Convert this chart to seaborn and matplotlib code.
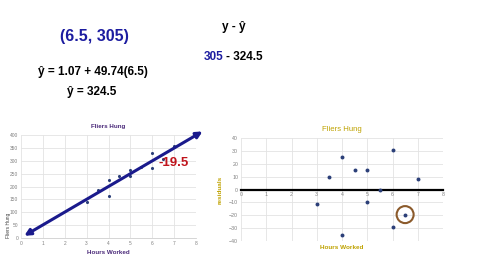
import matplotlib
matplotlib.use("Agg")
import matplotlib.pyplot as plt
import seaborn as sns
import pandas as pd
import numpy as np

# ---- data ----
hours = [3, 3.5, 4, 4, 4.5, 5, 5, 5.5, 6, 6, 6.5, 7]
fliers = [139, 185, 225, 165, 240, 265, 240, 275, 330, 270, 305, 358]
residuals = [-11, 10, 25, -35, 15, 15, -10, 0, 30.5, -29.5, -19.5, 8.5]
intercept = 1.07
slope = 49.74
line_x = [0.15, 8.3]
highlight_x = [6.5]
highlight_res = [-19.5]
x_ticks = list(range(0, 9))
left_y_ticks = list(range(0, 401, 50))
right_y_ticks = list(range(-40, 41, 10))

df = pd.DataFrame({"hours": hours, "fliers": fliers, "res": residuals})
hl = pd.DataFrame({"hours": highlight_x, "res": highlight_res})

sns.set_theme(style="white")
plt.rcParams['font.family'] = ['Liberation Sans', 'DejaVu Sans']

navy = "#1a1a8c"
pt_col = "#2b3f78"
purple = "#4b2a7a"
gold = "#bfa200"

fig = plt.figure(figsize=(4.8, 2.7), dpi=100)

# ---- top texts ----
fig.text(94/480, 1-36/270, "(6.5, 305)", ha="center", va="center",
         fontsize=11.5, fontweight="bold", color="#1c1ca0")
fig.text(93/480, 1-72/270, "ŷ = 1.07 + 49.74(6.5)", ha="center", va="center",
         fontsize=8.5, fontweight="bold", color="black")
fig.text(92/480, 1-92/270, "ŷ = 324.5", ha="center", va="center",
         fontsize=8.5, fontweight="bold", color="black")
fig.text(234/480, 1-27/270, "y - ŷ", ha="center", va="center",
         fontsize=8.5, fontweight="bold", color="black")
t305 = fig.text(204/480, 1-57/270, "305", ha="left", va="center",
                fontsize=8.5, fontweight="bold", color="#1c1ca0")
fig.canvas.draw()
bb = t305.get_window_extent()
fig.text(bb.x1 / fig.bbox.width + 2/480, 1-57/270, "- 324.5", ha="left", va="center",
         fontsize=8.5, fontweight="bold", color="black")

# ---- left chart ----
axL = fig.add_axes([21/480, 1-238/270, 175/480, 103/270])
sns.scatterplot(data=df, x="hours", y="fliers", ax=axL, s=5, color=pt_col,
                edgecolor=pt_col, linewidth=0, zorder=3)
ly = [intercept + slope * v for v in line_x]
axL.annotate("", xy=(line_x[1], ly[1]), xytext=(line_x[0], ly[0]),
             arrowprops=dict(arrowstyle="<|-|>", color=navy, lw=2.2,
                             mutation_scale=9, shrinkA=0, shrinkB=0),
             annotation_clip=False, zorder=4)
axL.set_xlim(0, 8)
axL.set_ylim(0, 400)
axL.set_xticks(x_ticks)
axL.set_yticks(left_y_ticks)
axL.tick_params(labelsize=3.5, colors="#808080", length=0, pad=2)
axL.grid(True, color="#e3e3e3", lw=0.6)
for s in ["top", "right", "left"]:
    axL.spines[s].set_visible(False)
axL.spines["bottom"].set_color("#cfcfcf")
axL.spines["bottom"].set_linewidth(0.6)
axL.set_title("Fliers Hung", fontsize=4.5, fontweight="bold", color=purple, pad=5)
axL.set_xlabel("Hours Worked", fontsize=4.5, fontweight="bold", color=purple, labelpad=3)
axL.set_ylabel("Fliers Hung", fontsize=3.5, color="#404040", labelpad=1)
axL.yaxis.set_label_coords(-0.055, 0.12)
axL.text(6.3, 291, "-19.5", fontsize=9.5, fontweight="bold", color="#c0141c",
         ha="left", va="center", zorder=5)

# ---- right chart ----
axR = fig.add_axes([241/480, 1-241/270, 202/480, 103/270])
sns.scatterplot(data=df, x="hours", y="res", ax=axR, s=8, color=pt_col,
                edgecolor=pt_col, linewidth=0, zorder=3)
sns.scatterplot(data=hl, x="hours", y="res", ax=axR, s=150, facecolor="none",
                edgecolor="#8b5a2b", linewidth=1.5, zorder=4)
axR.set_xlim(0, 8)
axR.set_ylim(-40, 40)
axR.set_xticks(x_ticks)
axR.set_yticks(right_y_ticks)
axR.tick_params(labelsize=3.8, colors="#808080", length=0, pad=2)
axR.grid(True, color="#e3e3e3", lw=0.6)
for s in ["top", "right", "left"]:
    axR.spines[s].set_visible(False)
axR.spines["bottom"].set_position(("data", 0))
axR.spines["bottom"].set_color("black")
axR.spines["bottom"].set_linewidth(1.6)
axR.spines["bottom"].set_zorder(2)
axR.set_title("Fliers Hung", fontsize=5.6, color=gold, pad=5)
axR.set_xlabel("Hours Worked", fontsize=4.6, fontweight="bold", color=gold, labelpad=2)
axR.xaxis.set_label_coords(0.5, -0.04)
axR.set_ylabel("residuals", fontsize=4.6, fontweight="bold", color=gold, labelpad=1)
axR.yaxis.set_label_coords(-0.09, 0.5)

fig.savefig("out.png", dpi=100)
